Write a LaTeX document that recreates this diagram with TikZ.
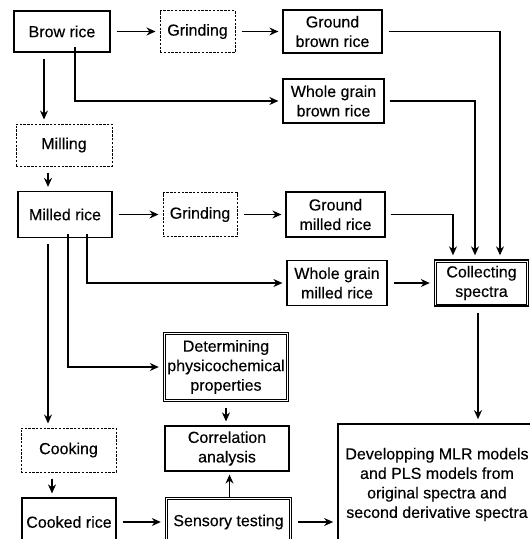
\documentclass[tikz,border=0pt]{standalone}
\usepackage{fontspec}
\setmainfont[FakeBold=0.3]{Liberation Sans}
\usetikzlibrary{arrows.meta,calc}
\begin{document}
\begin{tikzpicture}[x=1pt,y=-1pt,
  font=\fontsize{16}{19.5}\selectfont,
  base/.style={draw,line width=1.2pt,align=center,inner sep=1pt},
  solidbox/.style={base},
  dashbox/.style={base,line width=1pt,dash pattern=on 2.4pt off 1.4pt},
  dblbox/.style={base,line width=1.4pt},
  inner/.style={line width=0.6pt},
  thickbox/.style={base,line width=1.7pt},
  arr/.style={line width=1.2pt,-{Stealth[length=9pt,width=8pt]},shorten <=6pt,shorten >=4pt},
  arrs/.style={line width=1.2pt,-{Stealth[length=9pt,width=8pt]},shorten >=4pt}]
\useasboundingbox (0,0) rectangle (530,539);
\node[solidbox,minimum width=96pt,minimum height=41pt] (brow) at (62,31.5) {Brow rice};
\node[dashbox,minimum width=75pt,minimum height=42pt] (grind1) at (197.5,31.5) {Grinding};
\node[solidbox,minimum width=99pt,minimum height=43pt] (gbrown) at (332.5,31.5) {Ground\\brown rice};
\node[solidbox,minimum width=101pt,minimum height=44pt] (wbrown) at (333.5,101) {Whole grain\\brown rice};
\node[dashbox,minimum width=96pt,minimum height=42pt] (milling) at (64,145) {Milling};
\node[solidbox,minimum width=94pt,minimum height=46pt] (milled) at (65,214.5) {Milled rice};
\node[dashbox,minimum width=74pt,minimum height=44pt] (grind2) at (200,214.5) {Grinding};
\node[solidbox,minimum width=99pt,minimum height=45pt] (gmilled) at (335.5,214.5) {Ground\\milled rice};
\node[solidbox,minimum width=100pt,minimum height=45pt] (wmilled) at (337,283) {Whole grain\\milled rice};
\node[dblbox,minimum width=94pt,minimum height=46pt] (collect) at (481.5,283) {Collecting\\spectra};
\node[dblbox,minimum width=125pt,minimum height=69pt] (determ) at (226,367) {Determining\\physicochemical\\properties};
\node[solidbox,minimum width=124pt,minimum height=45pt] (corr) at (227,448.5) {Correlation\\analysis};
\node[dblbox,minimum width=126pt,minimum height=49pt] (sensory) at (228.5,522) {Sensory testing};
\node[dashbox,minimum width=95pt,minimum height=44pt] (cooking) at (68.5,450) {Cooking};
\node[solidbox,minimum width=94pt,minimum height=48pt] (cooked) at (69,522) {Cooked rice};
\node[thickbox,minimum width=198pt,minimum height=121pt] (develop) at (437,484.5) {Developping MLR models\\and PLS models from\\original spectra and\\second derivative spectra};

\draw[inner] ([shift={(2.6,2.6)}]collect.north west) rectangle ([shift={(-2.6,-2.6)}]collect.south east);
\draw[inner] ([shift={(2.6,2.6)}]determ.north west) rectangle ([shift={(-2.6,-2.6)}]determ.south east);
\draw[inner] ([shift={(2.6,2.6)}]sensory.north west) rectangle ([shift={(-2.6,-2.6)}]sensory.south east);

\draw[arr] (brow) -- (grind1);
\draw[arr] (grind1) -- (gbrown);
\draw[arr] ([xshift=-18pt]brow.south) -- ([xshift=-18pt]brow.south |- milling.north);
\draw[arrs] ([xshift=13pt,yshift=6pt]brow.south) |- (wbrown.west);
\draw[arrs] ([xshift=6pt]gbrown.east) -| ([xshift=18.5pt]collect.north);
\draw[arrs] ([xshift=5pt]wbrown.east) -| ([xshift=-6.5pt]collect.north);
\draw[arrs] ([xshift=5pt]gmilled.east) -| ([xshift=-28.5pt]collect.north);
\draw[arr] ([xshift=-16pt]milling.south) -- ([xshift=-16pt]milling.south |- milled.north);
\draw[arr] (milled) -- (grind2);
\draw[arr] (grind2) -- (gmilled);
\draw[arrs] ([xshift=22pt,yshift=4pt]milled.south) |- (wmilled.west);
\draw[arr] (wmilled) -- (collect);
\draw[arrs] ([xshift=3pt,yshift=4pt]milled.south) |- (determ.west);
\draw[arr] ([xshift=-17pt]milled.south) -- ([xshift=-17pt]milled.south |- cooking.north);
\draw[arr] ([xshift=-16.5pt]cooking.south) -- ([xshift=-16.5pt]cooking.south |- cooked.north);
\draw[arr] (cooked) -- (sensory);
\draw[arr] (determ.south) -- (determ.south |- corr.north);
\draw[line width=1.2pt,-{Stealth[length=9pt,width=8pt]},shorten >=3pt] ([xshift=1pt]sensory.north) -- ([xshift=1pt]sensory.north |- corr.south);
\draw[arr] (sensory.east) -- (sensory.east -| develop.west);
\draw[arr] ([xshift=-3.5pt]collect.south) -- ([xshift=-3.5pt]collect.south |- develop.north);
\end{tikzpicture}
\end{document}
